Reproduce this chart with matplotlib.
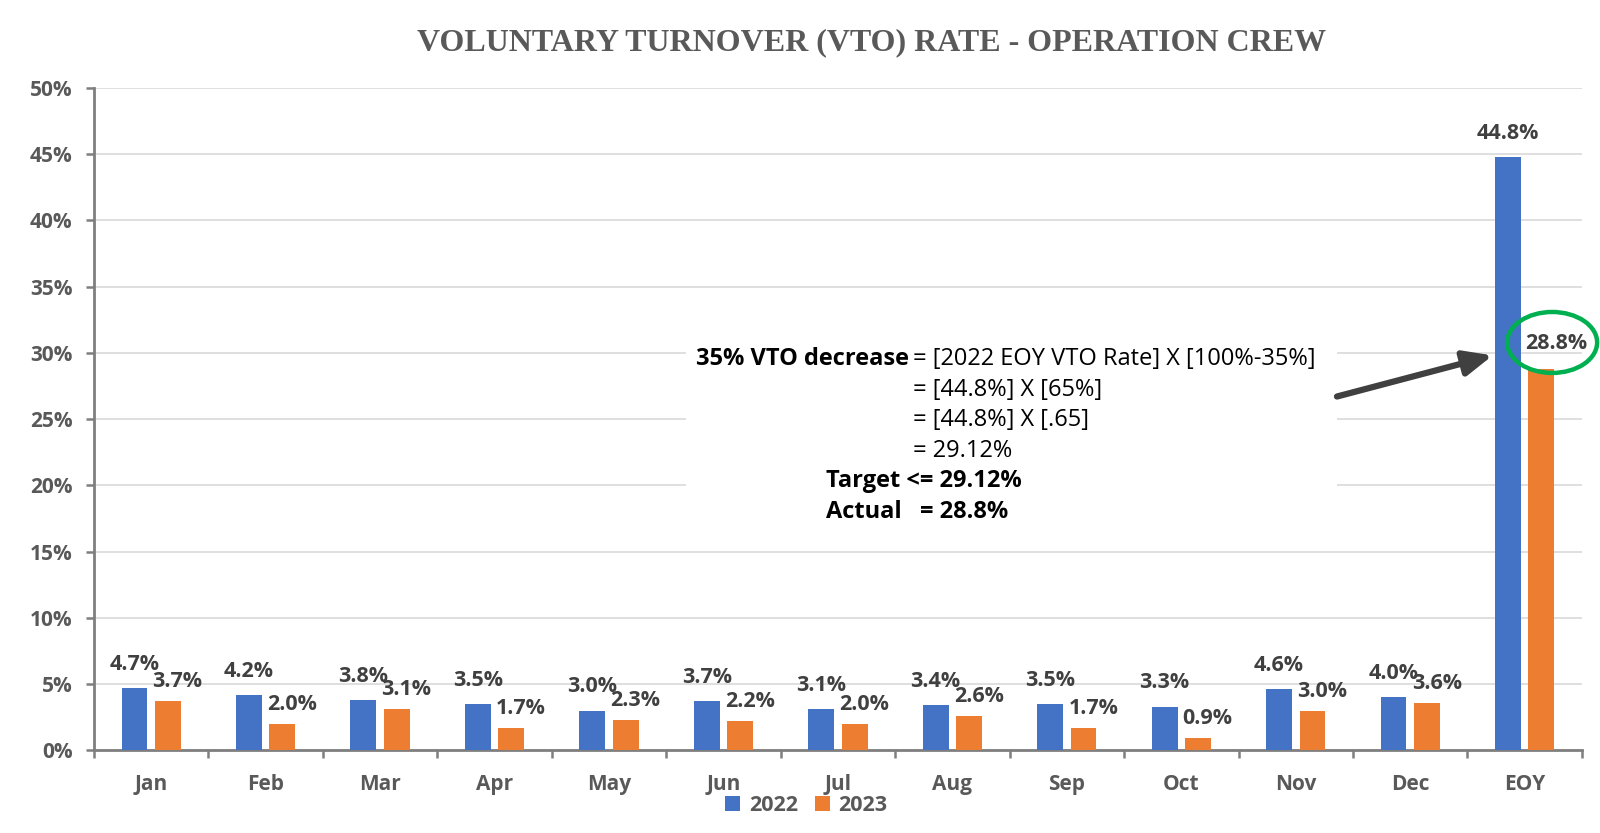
import matplotlib
matplotlib.use("Agg")
import matplotlib.pyplot as plt
from matplotlib.patches import Rectangle, Ellipse
import numpy as np

categories = ["Jan", "Feb", "Mar", "Apr", "May", "Jun", "Jul", "Aug", "Sep", "Oct", "Nov", "Dec", "EOY"]
vto_2022 = [4.7, 4.2, 3.8, 3.5, 3.0, 3.7, 3.1, 3.4, 3.5, 3.3, 4.6, 4.0, 44.8]
vto_2023 = [3.7, 2.0, 3.1, 1.7, 2.3, 2.2, 2.0, 2.6, 1.7, 0.9, 3.0, 3.6, 28.8]
series_names = ["2022", "2023"]
y_ticks = [0, 5, 10, 15, 20, 25, 30, 35, 40, 45, 50]
title = "VOLUNTARY TURNOVER (VTO) RATE - OPERATION CREW"

BLUE = "#4472C4"
ORANGE = "#ED7D31"
GRAY = "#595959"
SANS = ["Open Sans", "DejaVu Sans"]

fig = plt.figure(figsize=(16, 8.33), dpi=100)
ax = fig.add_axes([0.0587, 0.0993, 0.93, 0.7953])

x = np.arange(len(categories))
w = 0.226
off = 0.146
b1 = ax.bar(x - off, vto_2022, w, color=BLUE, label=series_names[0], zorder=3)
b2 = ax.bar(x + off, vto_2023, w, color=ORANGE, label=series_names[1], zorder=3)

ax.set_xlim(-0.5, len(categories) - 0.5)
ax.set_ylim(0, 50)
ax.set_yticks(y_ticks)
ax.set_yticklabels([f"{t}%" for t in y_ticks], fontsize=15, fontweight="bold",
                   color=GRAY, family=SANS)
ax.yaxis.grid(True, color="#D9D9D9", lw=1.2, zorder=0)
ax.set_axisbelow(True)

ax.set_xticks(x)
ax.set_xticklabels(categories, fontsize=15, fontweight="bold", color=GRAY, family=SANS)
ax.tick_params(axis="x", length=0, pad=17)
ax.set_xticks(np.arange(-0.5, len(categories) + 0.5, 1), minor=True)
ax.tick_params(axis="x", which="minor", length=6, width=1.8, color="#7F7F7F")
ax.tick_params(axis="y", length=5.5, width=1.8, color="#7F7F7F", pad=10)

for s in ["top", "right"]:
    ax.spines[s].set_visible(False)
for s in ["left", "bottom"]:
    ax.spines[s].set_color("#7F7F7F")
    ax.spines[s].set_linewidth(2)

LBL = dict(fontsize=15.5, fontweight="bold", color="#404040", family=SANS, zorder=5,
           textcoords="offset points", ha="center", va="center")
for i, (a, b) in enumerate(zip(vto_2022, vto_2023)):
    ax.annotate(f"{a:.1f}%", (x[i] - off, a), xytext=(0, 17), **LBL)
    if i == len(categories) - 1:
        ax.annotate(f"{b:.1f}%", (x[i] + off, b), xytext=(11, 18), **LBL)
    else:
        ax.annotate(f"{b:.1f}%", (x[i] + off, b), xytext=(7, 14), **LBL)

# white box behind annotation text
ax.add_patch(Rectangle((4.67, 16.5), 5.69, 16.5, facecolor="white", edgecolor="none", zorder=2))

TXT = dict(fontsize=17, color="black", family=SANS, zorder=5, va="center")
tx_eq = 6.66
ax.text(tx_eq - 0.04, 29.5, "35% VTO decrease", ha="right", fontweight="bold", **TXT)
lines = ["= [2022 EOY VTO Rate] X [100%-35%]", "= [44.8%] X [65%]", "= [44.8%] X [.65]", "= 29.12%"]
ys = [29.5, 27.2, 24.9, 22.6]
for t, yy in zip(lines, ys):
    ax.text(tx_eq, yy, t, ha="left", **TXT)
ax.text(5.90, 20.3, "Target <= 29.12%", ha="left", fontweight="bold", **TXT)
ax.text(5.90, 18.0, "Actual   = 28.8%", ha="left", fontweight="bold", **TXT)

# arrow
ax.annotate("", xy=(11.72, 29.8), xytext=(10.36, 26.7),
            arrowprops=dict(arrowstyle="-|>,head_length=1.7,head_width=0.75", color="#404040",
                            lw=4.5, shrinkA=0, shrinkB=0), zorder=6)

# green ellipse
ax.add_patch(Ellipse((12.24, 30.78), 0.786, 4.6, facecolor="none", edgecolor="#00B050",
                     lw=3.2, zorder=7, clip_on=False))

fig.text(0.545, 0.949, title, ha="center", va="center", fontsize=23, fontweight="bold",
         color=GRAY, family=["Liberation Serif", "DejaVu Serif"])

leg = fig.legend(handles=[b1, b2], labels=series_names, loc="center", bbox_to_anchor=(0.504, 0.033),
                 ncol=2, frameon=False, handlelength=0.7, handleheight=0.7, handletextpad=0.4,
                 columnspacing=0.8, prop={"family": SANS, "size": 15.5, "weight": "bold"})
for t in leg.get_texts():
    t.set_color(GRAY)

fig.savefig("out.png", dpi=100)
